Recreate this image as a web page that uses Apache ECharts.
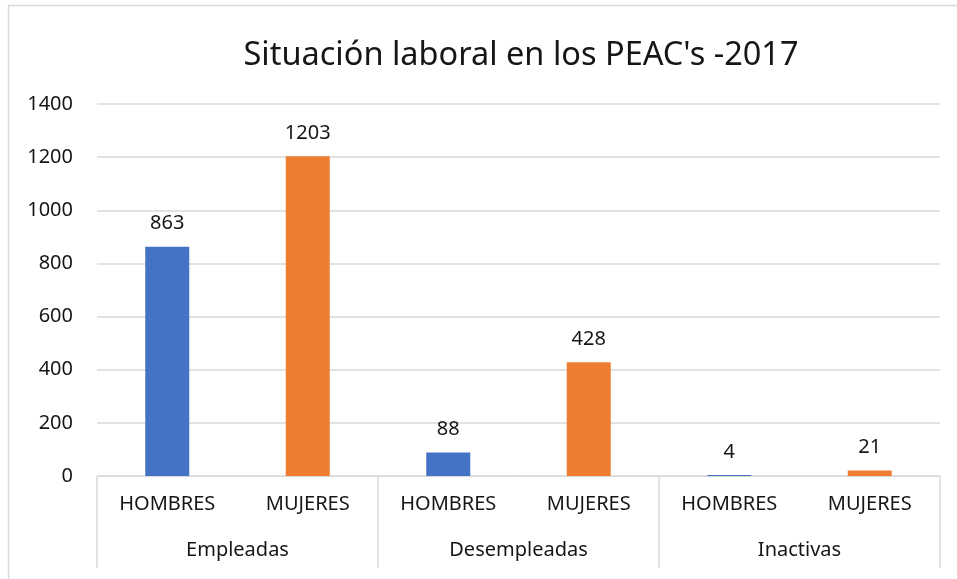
<!DOCTYPE html>
<html>
<head>
<meta charset="utf-8">
<script src="https://cdn.jsdelivr.net/npm/echarts@6/dist/echarts.min.js"></script>
<style>
  html, body { margin: 0; padding: 0; background: #fff; }
  #chart { width: 957px; height: 579px; }
</style>
</head>
<body>
<div id="chart"></div>
<script>
// 数据
const groups = ['Empleadas', 'Desempleadas', 'Inactivas'];
const sexes = ['HOMBRES', 'MUJERES'];
const hombres = [863, 88, 4];
const mujeres = [1203, 428, 21];
const yTicks = { min: 0, max: 1400, interval: 200 };

const colors = { HOMBRES: '#4472C4', MUJERES: '#ED7D31' };
const fontFam = '"Noto Sans", "Open Sans", sans-serif';
const textColor = '#161616';

// 6 categories: group x sex
const categories = [];
const barData = [];
groups.forEach(function (g, i) {
    categories.push(sexes[0]);
    barData.push({ value: hombres[i], itemStyle: { color: colors.HOMBRES } });
    categories.push(sexes[1]);
    barData.push({ value: mujeres[i], itemStyle: { color: colors.MUJERES } });
});

const chart = echarts.init(document.getElementById('chart'));

const option = {
    backgroundColor: '#fff',
    animation: false,
    title: {
        text: "Situación laboral en los PEAC's -2017",
        left: 516,
        textAlign: 'center',
        top: 34,
        textStyle: {
            fontFamily: fontFam,
            fontSize: 32.5,
            fontWeight: 'normal',
            color: textColor
        }
    },
    graphic: [
        {
            type: 'rect',
            shape: { x: 8.5, y: 5.5, width: 1000, height: 1000 },
            style: { fill: 'none', stroke: '#d9d9d9', lineWidth: 1.5 },
            silent: true
        }
    ],
    grid: {
        left: 97,
        right: 17,
        top: 104,
        bottom: 103
    },
    xAxis: [
        {
            type: 'category',
            data: categories,
            axisLine: { show: true, lineStyle: { color: '#d9d9d9', width: 1 } },
            axisTick: { show: false },
            axisLabel: {
                interval: 0,
                margin: 18,
                fontFamily: fontFam,
                fontSize: 20,
                color: textColor
            }
        },
        {
            type: 'category',
            data: groups,
            position: 'bottom',
            axisLine: { show: false },
            axisTick: {
                show: true,
                interval: 0,
                length: 92,
                lineStyle: { color: '#d9d9d9', width: 1.5 }
            },
            axisLabel: {
                interval: 0,
                margin: 64,
                fontFamily: fontFam,
                fontSize: 20,
                color: textColor
            }
        }
    ],
    yAxis: {
        type: 'value',
        min: yTicks.min,
        max: yTicks.max,
        interval: yTicks.interval,
        axisLine: { show: false },
        axisTick: { show: false },
        axisLabel: {
            margin: 24,
            fontFamily: fontFam,
            fontSize: 20,
            color: textColor,
            formatter: function (v) { return String(v); }
        },
        splitLine: { lineStyle: { color: '#d9d9d9', width: 1.5 } }
    },
    series: [
        {
            type: 'bar',
            xAxisIndex: 0,
            data: barData,
            barWidth: 44,
            label: {
                show: true,
                position: 'top',
                distance: 13,
                fontFamily: fontFam,
                fontSize: 20,
                color: textColor
            }
        }
    ]
};

chart.setOption(option);
</script>
</body>
</html>
